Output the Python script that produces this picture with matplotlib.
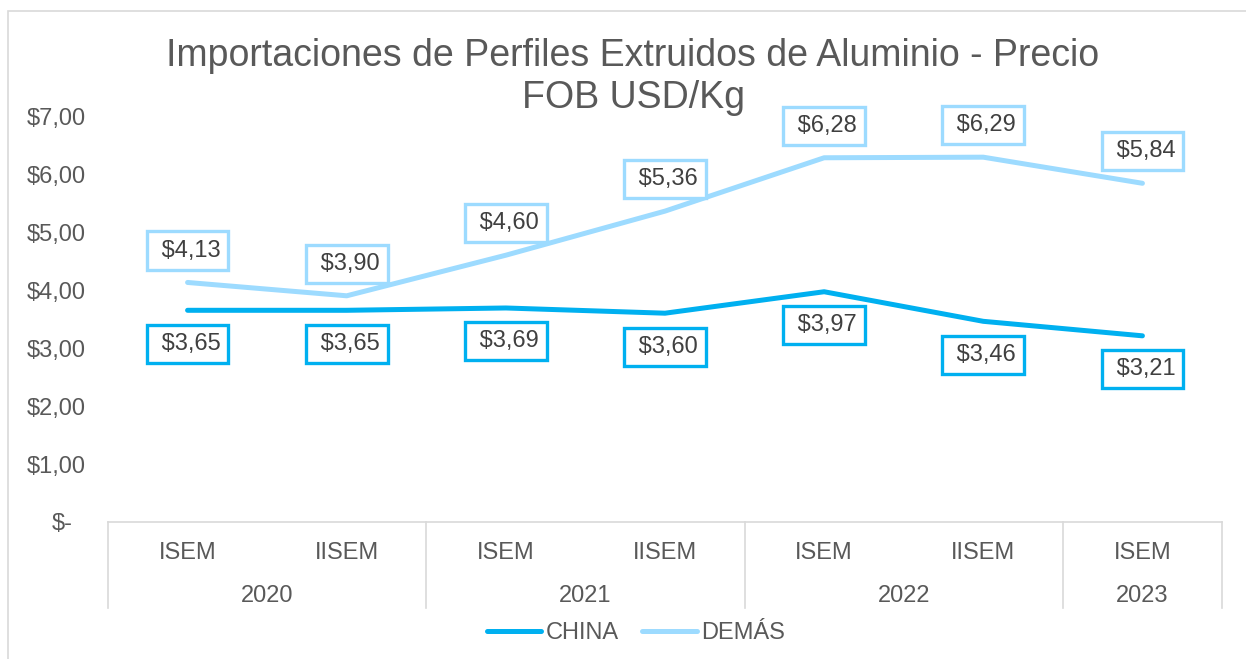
import matplotlib
matplotlib.use("Agg")
import matplotlib.pyplot as plt
from matplotlib.patches import Rectangle
from matplotlib.lines import Line2D
import matplotlib.transforms as mtransforms

plt.rcParams['font.family'] = ['Liberation Sans', 'DejaVu Sans']

semesters = ["ISEM", "IISEM", "ISEM", "IISEM", "ISEM", "IISEM", "ISEM"]
years = ["2020", "2021", "2022", "2023"]
year_spans = [(0, 1), (2, 3), (4, 5), (6, 6)]
china = [3.65, 3.65, 3.69, 3.60, 3.97, 3.46, 3.21]
demas = [4.13, 3.90, 4.60, 5.36, 6.28, 6.29, 5.84]
yticks = [0, 1, 2, 3, 4, 5, 6, 7]
title_lines = ["Importaciones de Perfiles Extruidos de Aluminio - Precio", "FOB USD/Kg"]

C_CHINA = "#00B0F0"
C_DEMAS = "#9DDBFF"
TXT = "#595959"
GRID = "#D9D9D9"

W, H = 1246, 659
fig = plt.figure(figsize=(W / 100, H / 100), dpi=100)
ax = fig.add_axes([108 / W, 1 - 522 / H, (1222 - 108) / W, (522 - 116) / H])

x = list(range(len(semesters)))
ax.plot(x, china, color=C_CHINA, lw=3.6, solid_joinstyle='round', solid_capstyle='round', label="CHINA", zorder=3)
ax.plot(x, demas, color=C_DEMAS, lw=3.6, solid_joinstyle='round', solid_capstyle='round', label="DEMÁS", zorder=3)

def fmt(v):
    return "$" + f"{v:.2f}".replace(".", ",")

for xi, v in zip(x, demas):
    ax.annotate(" " + fmt(v), (xi, v), xytext=(0, 23), textcoords='offset points',
                ha='center', va='center', fontsize=17, color="#404040", zorder=5,
                bbox=dict(boxstyle='square,pad=0.34', fc='white', ec=C_DEMAS, lw=2.4),
                annotation_clip=False)
for xi, v in zip(x, china):
    ax.annotate(" " + fmt(v), (xi, v), xytext=(0, -24), textcoords='offset points',
                ha='center', va='center', fontsize=17, color="#404040", zorder=5,
                bbox=dict(boxstyle='square,pad=0.34', fc='white', ec=C_CHINA, lw=2.4),
                annotation_clip=False)

ax.set_xlim(-0.5, len(semesters) - 0.5)
ax.set_ylim(0, 7)
for s in ['top', 'right', 'left']:
    ax.spines[s].set_visible(False)
ax.spines['bottom'].set_color(GRID)
ax.spines['bottom'].set_linewidth(1.2)

ax.set_yticks(yticks)
ax.set_yticklabels(["$-"] + [fmt(v) for v in yticks[1:]])
ax.tick_params(axis='y', length=0, pad=16, labelsize=17, labelcolor=TXT)
lab0 = ax.get_yticklabels()[0]
lab0.set_transform(lab0.get_transform() + mtransforms.ScaledTranslation(-13 / 100, 0, fig.dpi_scale_trans))

ax.set_xticks([])
# Multi-level category axis
trans = ax.get_xaxis_transform()
for xi, s in zip(x, semesters):
    ax.text(xi, -31 / 406, s, transform=trans, ha='center', va='center', fontsize=17, color=TXT)
for (a, b), yr in zip(year_spans, years):
    ax.text((a + b) / 2, -74 / 406, yr, transform=trans, ha='center', va='center', fontsize=17, color=TXT)
seps = [-0.5] + [b + 0.5 for (a, b) in year_spans]
for sx in seps:
    ax.add_line(Line2D([sx, sx], [0, -86 / 406], transform=trans, color=GRID, lw=1.2, clip_on=False))

fig.text(633 / W, 1 - 66 / H, title_lines[0], ha='center', va='baseline', fontsize=27, color=TXT)
fig.text(633 / W, 1 - 108 / H, title_lines[1], ha='center', va='baseline', fontsize=27, color=TXT)

fig.legend(loc='center', bbox_to_anchor=(636 / W, 1 - 633 / H), ncol=2, frameon=False,
           fontsize=17, handlelength=2.3, handletextpad=0.2, columnspacing=1.0, labelcolor=TXT)

fig.add_artist(Rectangle((8 / W, -0.1), 1.2, 1 - 11 / H + 0.1, transform=fig.transFigure,
                         fill=False, ec=GRID, lw=1.2))

fig.savefig("out.png", dpi=100, facecolor='white')
